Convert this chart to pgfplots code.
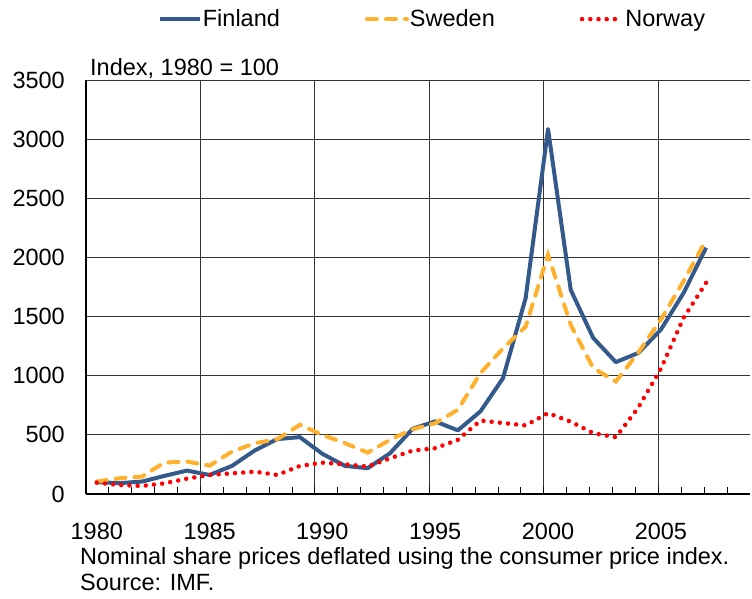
\documentclass[border=0pt]{standalone}
\usepackage{fontspec}
\setmainfont{Liberation Sans}
\usepackage{pgfplots}
\pgfplotsset{compat=1.18}
\usepackage{pgfplotstable}
\definecolor{finblue}{RGB}{52,90,140}
\definecolor{sweorange}{RGB}{255,176,44}
\definecolor{norred}{RGB}{255,0,0}

\pgfplotstableread{
pos     fin   swe   nor
1980.47 100   105   96
1981.45 92    133   76
1982.44 105   147   68
1983.42 153   266   90
1984.41 198   274   130
1985.40 161   240   161
1986.38 238   359   175
1987.37 368   429   189
1988.35 464   463   161
1989.34 481   585   237
1990.32 340   500   265
1991.31 238   430   251
1992.30 218   350   232
1993.28 345   458   302
1994.27 552   548   367
1995.25 614   599   387
1996.24 538   712   458
1997.23 699   1023  621
1998.21 978   1230  600
1999.20 1655  1415  580
2000.18 3085  2023  684
2001.17 1726  1430  611
2002.15 1320  1065  515
2003.14 1115  952   480
2004.12 1192  1195  730
2005.11 1390  1475  1060
2006.10 1700  1800  1490
2007.08 2082  2147  1785
}\data

\begin{document}
\begin{tikzpicture}[font=\fontsize{23.5}{28}\selectfont]
\useasboundingbox (-86pt,-104pt) rectangle (666pt,494pt);
\begin{axis}[
  at={(0pt,0pt)}, anchor=south west,
  scale only axis, width=664pt, height=414pt,
  xmin=1980, xmax=2009, ymin=0, ymax=3500,
  axis x line*=bottom, axis y line*=left,
  axis line style={line width=2.4pt, black, -},
  xtick={1980,1985,...,2005},
  xticklabels={},
  minor xtick={1981,...,2008},
  ytick={0,500,...,3500},
  tick align=inside,
  major tick length=7pt, minor tick length=7pt,
  x tick style={black, line width=1pt},
  y tick style={draw=none},
  xmajorgrids, ymajorgrids,
  major grid style={black!80, line width=1pt},
  extra x ticks={1980.47,1985.40,1990.32,1995.25,2000.18,2005.11},
  extra x tick labels={1980,1985,1990,1995,2000,2005},
  extra x tick style={major tick length=0pt, grid=none},
  xticklabel style={inner sep=0pt, anchor=north, yshift=-29pt},
  yticklabel style={inner sep=0pt, anchor=east, xshift=-21pt},
  /pgf/number format/1000 sep={},
  /pgf/number format/assume math mode=true,
  legend columns=3,
  legend style={draw=none, fill=none, at={(0.521,1.147)}, anchor=center,
    nodes={inner sep=1pt},
    /tikz/every even column/.append style={column sep=84pt}},
  legend image code/.code={\draw[#1] (0pt,0pt) -- (40pt,0pt);},
]
\addplot[finblue, line width=4pt, line join=round] table[x=pos,y=fin]{\data};
\addlegendentry{Finland}
\addplot[sweorange, line width=4pt, line cap=round, dash pattern=on 10pt off 9pt] table[x=pos,y=swe]{\data};
\addlegendentry{Sweden}
\addplot[norred, line width=4.5pt, line cap=round, dash pattern=on 0pt off 8.2pt] table[x=pos,y=nor]{\data};
\addlegendentry{Norway}
\end{axis}
\node[anchor=base west, inner sep=0pt] at (4pt,418pt) {Index, 1980 = 100};
\node[anchor=base west, inner sep=0pt] at (-6pt,-70pt) {Nominal share prices deflated using the consumer price index.};
\node[anchor=base west, inner sep=0pt] at (-6pt,-96.5pt) {Source: IMF.};
\end{tikzpicture}
\end{document}
